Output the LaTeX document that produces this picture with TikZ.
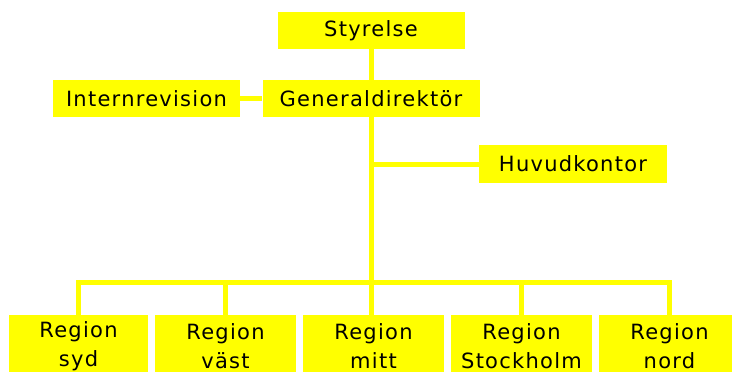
\documentclass[tikz,border=0pt]{standalone}
\usepackage{fontspec}
\setmainfont{DejaVu Sans}[LetterSpace=6]
\usepackage{tikz}
\usetikzlibrary{positioning}
\definecolor{orgyellow}{HTML}{FFFF00}

\begin{document}
\begin{tikzpicture}[x=1pt,y=-1pt,
  orgbox/.style={fill=orgyellow, inner sep=0pt, minimum height=37pt, align=center,
    font=\fontsize{21}{29}\selectfont},
  regionbox/.style={orgbox, minimum width=141pt, minimum height=62pt},
  link/.style={draw=orgyellow, line width=5pt}]
\useasboundingbox (0,0) rectangle (732,372);
% top of the chart
\node[orgbox, minimum width=187pt] (styrelse) at (371,30.5) {Styrelse};
\node[orgbox, minimum width=217pt] (gendir) at (371,98.5) {Generaldirektör};
\node[orgbox, minimum width=187pt] (internrev) at (146.5,98.5) {Internrevision};
\node[orgbox, minimum width=188pt, minimum height=38pt] (huvud) at (573,164) {Huvudkontor};
% regions
\node[regionbox, minimum width=139pt] (syd) at (78.5,346) {Region\\syd};
\node[regionbox] (vast) at (225.5,346) {Region\\väst};
\node[regionbox] (mitt) at (373.5,346) {Region\\mitt};
\node[regionbox] (sthlm) at (521.5,346) {Region\\Stockholm};
\node[regionbox] (nord) at (669.5,346) {Region\\nord};
\coordinate (bus) at (371,282.5);
% connectors
\draw[link] (styrelse.south) -- (gendir.north);
\draw[link] (internrev.east) -- (gendir.west);
\draw[link] (gendir.south) -- (gendir.south |- mitt.north);
\draw[link] (huvud.west) -- (huvud.west -| gendir.south);
\draw[link] (syd.north) |- (bus) -| (nord.north);
\foreach \r in {vast,sthlm}
  \draw[link] (\r.north) -- (\r.north |- bus);
\end{tikzpicture}
\end{document}
